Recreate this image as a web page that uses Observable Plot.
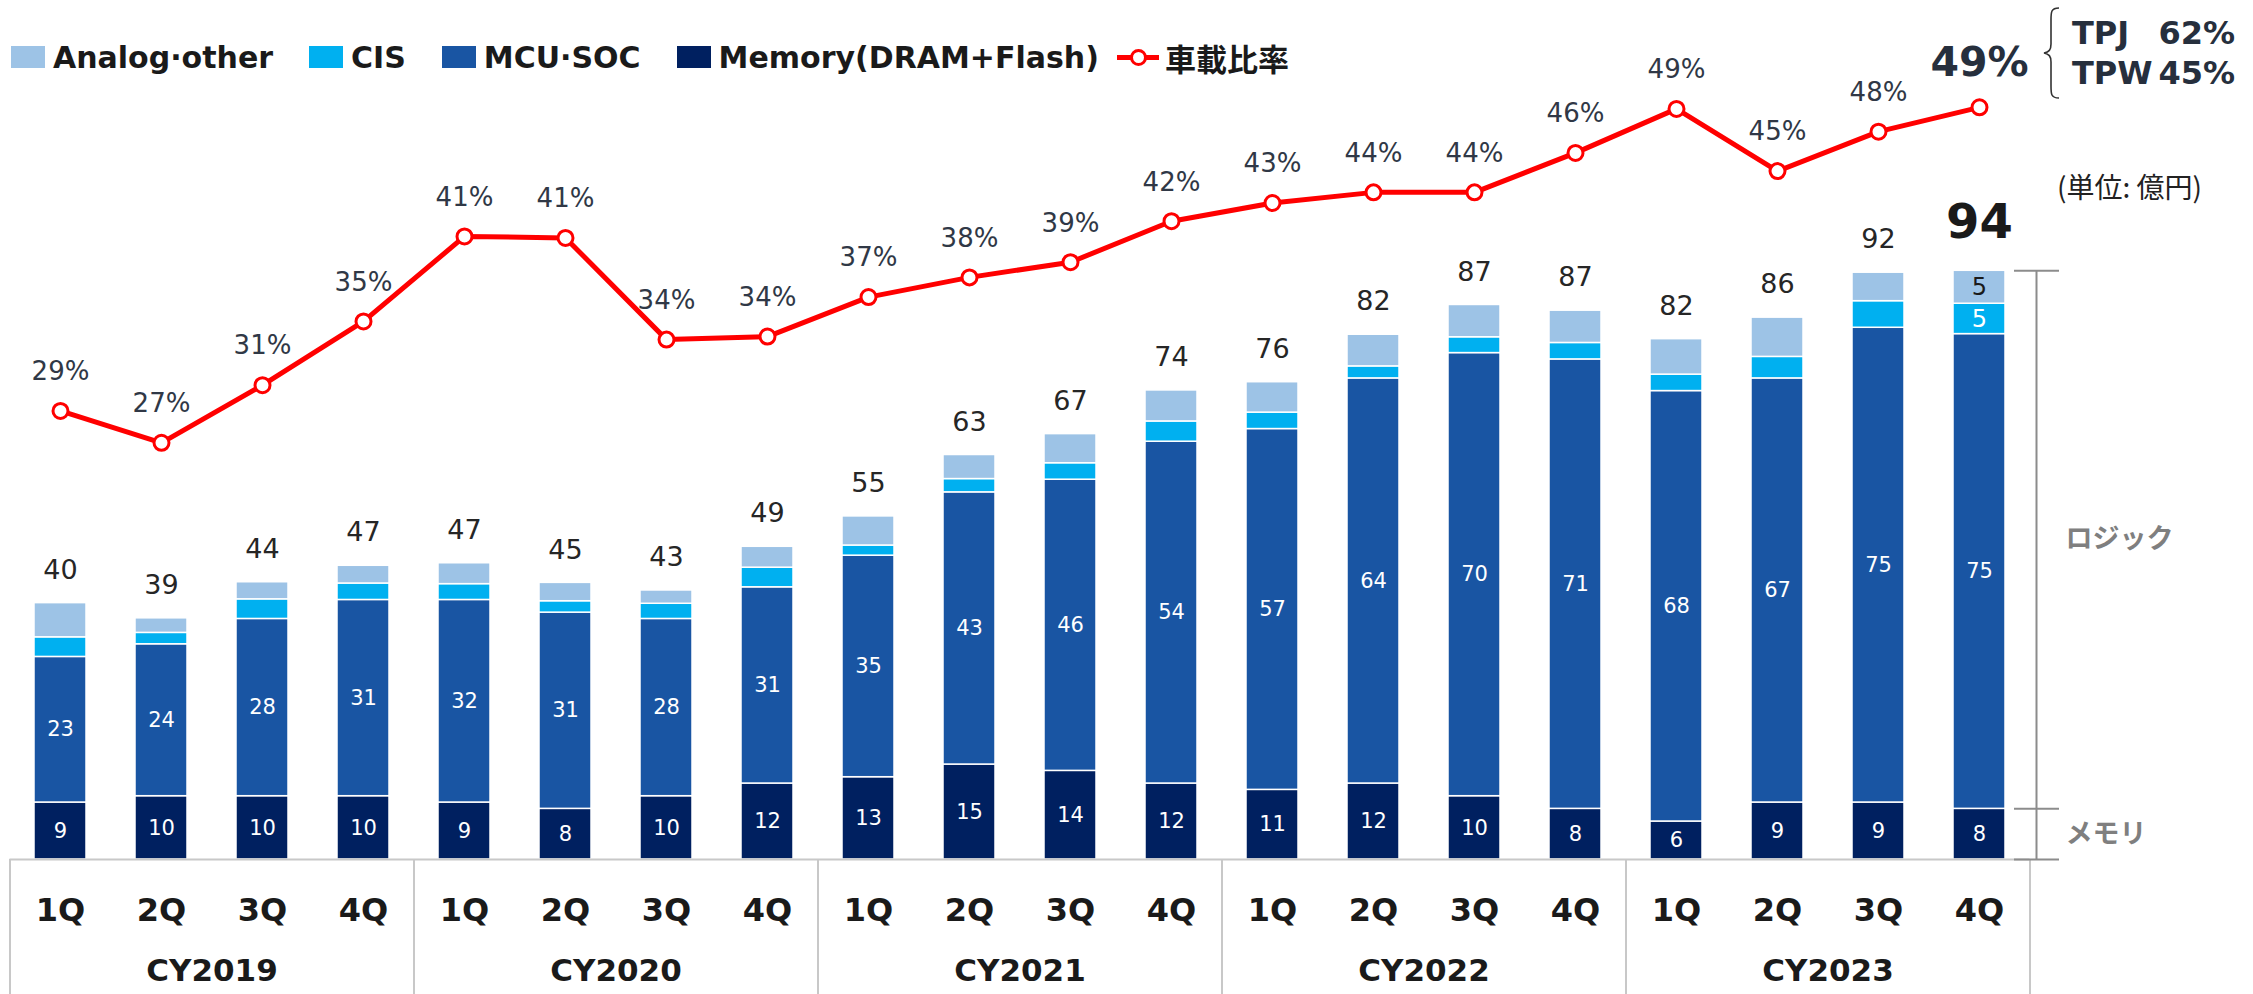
<!DOCTYPE html>
<html><head><meta charset="utf-8">
<script src="https://cdn.jsdelivr.net/npm/d3@7"></script>
<script src="https://cdn.jsdelivr.net/npm/@observablehq/plot@0.6"></script>
<style>
body{margin:0;background:#fff;}
#wrap{position:relative;width:2253px;height:994px;overflow:hidden;font-family:"DejaVu Sans","Noto Sans CJK JP",sans-serif;}
#wrap > svg{position:absolute;left:0;top:0;}
#legend{position:absolute;left:11px;top:40px;height:34px;display:flex;align-items:center;font-weight:bold;font-size:30px;color:#1a1a1a;white-space:nowrap;}
#legend .item{display:flex;align-items:center;margin-right:36px;}
#legend .item.mem{margin-right:18px;}
#legend .sw{width:34px;height:22px;margin-right:8px;}
#legend .ln{position:relative;width:42px;height:22px;margin-right:6px;}
#legend .ln::before{content:"";position:absolute;left:0;right:0;top:9px;height:5px;background:#ff0000;}
#legend .ln::after{content:"";position:absolute;left:13px;top:3px;width:11px;height:11px;border:3px solid #ff0000;border-radius:50%;background:#fff;}
#legend .jp{font-family:"Noto Sans CJK JP",sans-serif;font-weight:bold;font-size:31px;}
#tp{position:absolute;left:2040px;top:4px;width:200px;height:96px;}
#tp .row{position:absolute;left:32px;width:163px;font-weight:bold;font-size:32px;color:#262f3d;display:flex;justify-content:space-between;}
#unit{position:absolute;left:2057px;top:166px;font-family:"Noto Sans CJK JP",sans-serif;font-size:28px;color:#222;white-space:nowrap;}
</style></head><body>
<div id="wrap">
  <div id="legend"></div>
  <div id="tp">
    <svg width="20" height="96" style="position:absolute;left:2px;top:2px"><path d="M17,2 C9,2 9,6 9,14 L9,38 C9,44 7,46 2,47 C7,48 9,50 9,56 L9,80 C9,88 9,92 17,92" fill="none" stroke="#333" stroke-width="1.6"/></svg>
    <div class="row" style="top:10px"><span>TPJ</span><span>62%</span></div>
    <div class="row" style="top:50px"><span>TPW</span><span>45%</span></div>
  </div>
  <div id="unit">(単位: 億円)</div>
</div>
<script>
// ---- data ----
const years = ["CY2019","CY2020","CY2021","CY2022","CY2023"];
const quarters = ["1Q","2Q","3Q","4Q"];
const memory      = [9,10,10,10, 9,8,10,12, 13,15,14,12, 11,12,10,8, 6,9,9,8];
const mcuSoc      = [23,24,28,31, 32,31,28,31, 35,43,46,54, 57,64,70,71, 68,67,75,75];
const cis         = [3.1,1.8,3.1,2.6, 2.5,1.8,2.4,3.1, 1.6,2.1,2.6,3.2, 2.6,1.9,2.5,2.6, 2.6,3.4,4.2,4.8];
const analogOther = [5.4,2.3,2.7,2.8, 3.3,2.9,2.1,3.3, 4.6,3.8,4.6,4.9, 4.8,5.0,5.1,5.1, 5.6,6.2,4.5,5.2];
const totals      = [40,39,44,47, 47,45,43,49, 55,63,67,74, 76,82,87,87, 82,86,92,94];
const onboardPct  = [29.1,27.0,30.8,35.0, 40.6,40.5,33.8,34.0, 36.6,37.9,38.9,41.6, 42.8,43.5,43.5,46.1, 49.0,44.9,47.5,49.1];
const seriesNames  = ["Analog·other","CIS","MCU·SOC","Memory(DRAM+Flash)"];
const seriesColors = ["#9DC3E6","#00B0F0","#1955A3","#002060"];
const lineName = "車載比率";
const bracketLabels = ["ロジック","メモリ"];

// ---- tables ----
const keys = years.flatMap(y => quarters.map(q => y + " " + q));
const lastKey = keys[keys.length - 1];
const stackOrder = [memory, mcuSoc, cis, analogOther];
const stackNames = ["Memory(DRAM+Flash)","MCU·SOC","CIS","Analog·other"];
const rows = [];
stackOrder.forEach((arr, si) => arr.forEach((v, i) => rows.push({key: keys[i], series: stackNames[si], value: v, idx: i})));
const tops = keys.map((k, i) => ({key: k, top: memory[i] + mcuSoc[i] + cis[i] + analogOther[i], total: totals[i], idx: i}));
const pctRows = keys.map((k, i) => ({key: k, pct: onboardPct[i], idx: i}));
const last = tops[tops.length - 1];

const W = 2253, H = 994, mL = 9.5, mR = 223.5;
const step = (W - mL - mR) / keys.length;
const font = "'DejaVu Sans','Noto Sans CJK JP',sans-serif";
const xOpts = {domain: keys, paddingInner: 0.485, paddingOuter: 0.2425};

// ---- legend ----
const leg = document.getElementById("legend");
seriesNames.forEach((n, i) => {
  const it = document.createElement("div"); it.className = "item" + (i === seriesNames.length - 1 ? " mem" : "");
  it.innerHTML = `<span class="sw" style="background:${seriesColors[i]}"></span><span>${n}</span>`;
  leg.appendChild(it);
});
{
  const it = document.createElement("div"); it.className = "item";
  it.innerHTML = `<span class="ln"></span><span class="jp">${lineName}</span>`;
  leg.appendChild(it);
}

// ---- bars ----
const bars = Plot.plot({
  width: W, height: H, marginLeft: mL, marginRight: mR, marginTop: 0, marginBottom: 135,
  style: {fontFamily: font, background: "transparent", overflow: "visible"},
  x: {...xOpts, axis: null},
  y: {domain: [0, 135.7], axis: null},
  color: {domain: seriesNames, range: seriesColors},
  marks: [
    Plot.barY(rows, {x: "key", y: "value", fill: "series", stroke: "white", strokeWidth: 1.5}),
    Plot.text(rows, Plot.stackY({
      x: "key", y: "value", z: "series",
      text: d => (d.series === "MCU·SOC" || d.series === "Memory(DRAM+Flash)" || d.key === lastKey) ? String(Math.round(d.value)) : "",
      fill: d => d.series === "Analog·other" ? "#1a1a1a" : "white",
      fontSize: d => d.series === "MCU·SOC" || d.series === "Memory(DRAM+Flash)" ? 21 : 24
    })),
    Plot.text(tops.filter(d => d.key !== lastKey), {x: "key", y: "top", text: d => String(d.total), dy: -33, fontSize: 27, fill: "#262626"}),
    Plot.text([last], {x: "key", y: "top", text: d => String(d.total), dy: -48, fontSize: 48, fontWeight: "bold", fill: "#1a1a1a"}),
    Plot.ruleY([0], {stroke: "#c8c8c8", strokeWidth: 2}),
    Plot.ruleX(years.map(y => y + " 1Q"), {x: d => d, dx: -step / 2, insetTop: 859, insetBottom: -135, stroke: "#c8c8c8", strokeWidth: 2}),
    Plot.ruleX([lastKey], {x: d => d, dx: step / 2, insetTop: 859, insetBottom: -135, stroke: "#c8c8c8", strokeWidth: 2}),
    Plot.axisX({tickSize: 0, tickPadding: 39, tickFormat: d => d.split(" ")[1], fontSize: 32, fontWeight: "bold", fill: "#1a1a1a", label: null}),
    Plot.text(years, {x: d => d + " 2Q", frameAnchor: "bottom", dx: step / 2, dy: 121, text: d => d, fontSize: 31, fontWeight: "bold", fill: "#1a1a1a"}),
    // bracket on the right
    Plot.ruleX([last], {x: "key", y1: 0, y2: "top", dx: 57, stroke: "#8c8c8c", strokeWidth: 2}),
    Plot.tickY([0, memory[memory.length - 1], last.top], {x: () => lastKey, y: d => d, dx: 61, insetRight: 7, stroke: "#8c8c8c", strokeWidth: 2}),
    Plot.text([{y: (memory[19] + last.top) / 2, t: bracketLabels[0]}, {y: memory[19] / 2, t: bracketLabels[1]}],
      {x: () => lastKey, y: "y", text: "t", dx: 86, textAnchor: "start", fontSize: 27, fontWeight: "bold", fill: "#7f7f7f", fontFamily: "'Noto Sans CJK JP',sans-serif"})
  ]
});
document.getElementById("wrap").appendChild(bars);

// ---- line ----
const line = Plot.plot({
  width: W, height: H, marginLeft: mL, marginRight: mR, marginTop: 0, marginBottom: 141.8,
  style: {fontFamily: font, background: "transparent", overflow: "visible"},
  x: {...xOpts, axis: null},
  y: {domain: [0, 56.14], axis: null},
  marks: [
    Plot.lineY(pctRows, {x: "key", y: "pct", stroke: "#ff0000", strokeWidth: 5}),
    Plot.dot(pctRows, {x: "key", y: "pct", r: 7.5, fill: "white", stroke: "#ff0000", strokeWidth: 3}),
    Plot.text(pctRows.slice(0, -1), {x: "key", y: "pct", text: d => Math.round(d.pct) + "%", dy: -39, fontSize: 26, fill: "#303846"}),
    Plot.text(pctRows.slice(-1), {x: "key", y: "pct", text: d => Math.round(d.pct) + "%", dy: -44, fontSize: 41, fontWeight: "bold", fill: "#262f3d"})
  ]
});
document.getElementById("wrap").appendChild(line);
</script>
</body></html>
